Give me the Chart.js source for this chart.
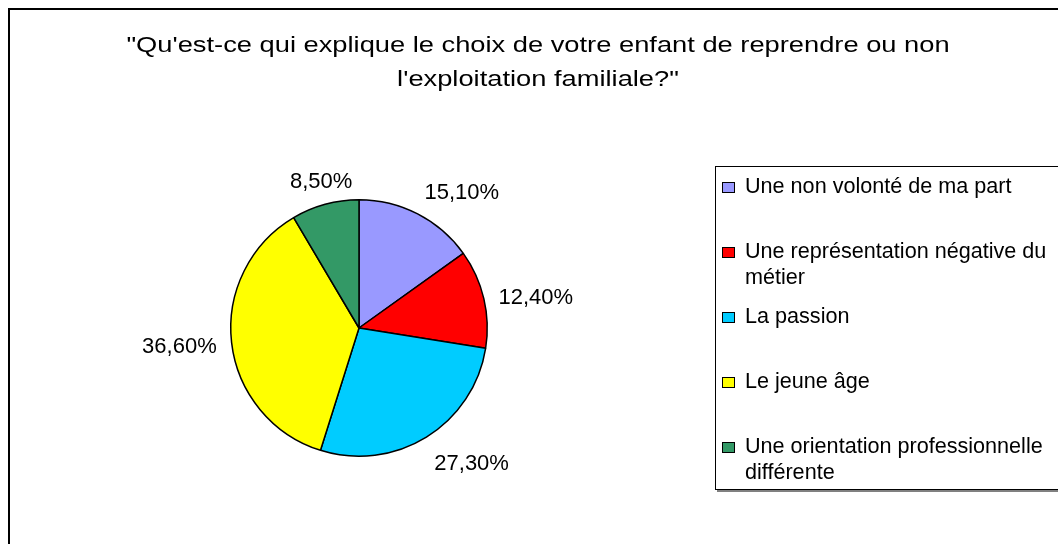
<!DOCTYPE html>
<html>
<head>
<meta charset="utf-8">
<script src="https://cdn.jsdelivr.net/npm/chart.js@4.4.1/dist/chart.umd.min.js"></script>
<style>
  html, body { margin: 0; padding: 0; background: #fff; }
  #wrap { width: 1058px; height: 544px; position: relative; }
</style>
</head>
<body>
<div id="wrap"><canvas id="pie" width="1058" height="544"></canvas></div>
<script>
// --- DATA ---
const titleLines = ['"Qu\'est-ce qui explique le choix de votre enfant de reprendre ou non', 'l\'exploitation familiale?"'];
const categories = [
    ["Une non volonté de ma part"],
    ["Une représentation négative du", "métier"],
    ["La passion"],
    ["Le jeune âge"],
    ["Une orientation professionnelle", "différente"]
];
const values = [15.1, 12.4, 27.3, 36.6, 8.5];
const valueLabels = ["15,10%", "12,40%", "27,30%", "36,60%", "8,50%"];
const colors = ["#9999ff", "#ff0000", "#00ccff", "#ffff00", "#339966"];

const FONT = '"Liberation Sans", Arial, sans-serif';

// text drawn a bit wider, like the original export
function wideText(c, txt, x, y, sx) {
    c.save();
    c.translate(x, y);
    c.scale(sx, 1);
    c.fillText(txt, 0, 0);
    c.restore();
}

// draws frame, title, value labels and legend box
const decor = {
    id: 'decor',
    beforeDraw(chart) {
        const c = chart.ctx;
        c.save();
        c.strokeStyle = '#000';
        c.lineWidth = 2;
        c.strokeRect(9, 9, 1100, 600);
        c.fillStyle = '#000';
        c.font = '22px ' + FONT;
        c.textAlign = 'center';
        c.textBaseline = 'middle';
        titleLines.forEach((t, i) => wideText(c, t, 538, 46 + i * 34, 1.24));
        c.restore();
    },
    afterDraw(chart) {
        const c = chart.ctx;
        const meta = chart.getDatasetMeta(0);
        c.save();
        c.fillStyle = '#000';
        c.font = '22px ' + FONT;
        meta.data.forEach((arc, i) => {
            const mid = (arc.startAngle + arc.endAngle) / 2;
            const r = arc.outerRadius + 15;
            const dx = Math.cos(mid), dy = Math.sin(mid);
            const x = arc.x + dx * r, y = arc.y + dy * r + 3;
            c.textAlign = Math.abs(dx) < 0.3 ? 'center' : (dx > 0 ? 'left' : 'right');
            c.textBaseline = Math.abs(dy) < 0.5 ? 'middle' : (dy > 0 ? 'top' : 'bottom');
            c.fillText(valueLabels[i], x, y);
        });

        // legend
        c.fillStyle = '#fff';
        c.fillRect(716, 167, 400, 323);
        c.strokeStyle = '#808080';
        c.lineWidth = 2;
        c.beginPath(); c.moveTo(717, 491); c.lineTo(1060, 491); c.stroke();
        c.strokeStyle = '#000';
        c.lineWidth = 1;
        c.strokeRect(715.5, 166.5, 400, 323);
        c.font = '21.6px ' + FONT;
        c.textAlign = 'left';
        c.textBaseline = 'middle';
        categories.forEach((lines, i) => {
            const y = 187 + i * 65;
            c.fillStyle = colors[i];
            c.fillRect(723, y - 4, 11, 9);
            c.strokeStyle = '#000';
            c.strokeRect(722.5, y - 4.5, 12, 10);
            c.fillStyle = '#000';
            lines.forEach((ln, j) => c.fillText(ln, 745, y + j * 26));
        });
        c.restore();
    }
};

new Chart(document.getElementById('pie'), {
    type: 'pie',
    data: {
        labels: categories,
        datasets: [{
            data: values,
            backgroundColor: colors,
            borderColor: '#000',
            borderWidth: 1.5
        }]
    },
    options: {
        responsive: false,
        animation: false,
        layout: { padding: { left: 230, right: 570, top: 199, bottom: 87 } },
        plugins: {
            legend: { display: false },
            title: { display: false },
            tooltip: { enabled: false }
        }
    },
    plugins: [decor]
});
</script>
</body>
</html>
